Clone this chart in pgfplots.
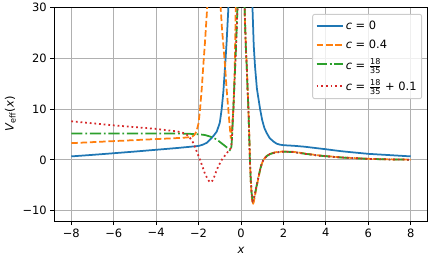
\documentclass[border=0pt]{standalone}
\usepackage{fontspec}
\setmainfont{DejaVu Sans}
\usepackage{amsmath}
\usepackage{pgfplots}
\pgfplotsset{compat=1.18}
\definecolor{tabblue}{HTML}{1F77B4}
\definecolor{taborange}{HTML}{FF7F0E}
\definecolor{tabgreen}{HTML}{2CA02C}
\definecolor{tabred}{HTML}{D62728}
\newcommand{\fr}[2]{$\frac{\text{#1}}{\text{#2}}$}
\newcommand{\fs}{\fontsize{11.5}{13.5}\selectfont}
\begin{document}
\begin{tikzpicture}
\begin{axis}[name=ax, scale only axis, width=373.4bp, height=213.7bp,
  xmin=-8.8, xmax=8.8, ymin=-12, ymax=30,
  xtick={-8,-6,...,8}, xticklabels={−8,−6,−4,−2,0,2,4,6,8},
  ytick={-10,0,10,20,30}, yticklabels={−10,0,10,20,30},
  tick align=outside, tick pos=left, major tick length=4bp,
  tick style={black, line width=0.9bp},
  grid=major, major grid style={color=black!31, line width=0.9bp},
  axis line style={line width=0.9bp},
  every tick label/.append style={font=\fs},
  label style={font=\fs},
  xlabel={\textit{x}}, ylabel={\textit{V}\textsubscript{eff}(\textit{x})},
  xlabel style={yshift=-3bp},
  legend cell align=left,
  legend style={at={(0.985,0.969)}, anchor=north east, font=\fs,
    fill=white, fill opacity=0.8, draw opacity=1, text opacity=1,
    draw=black!20, rounded corners=2bp, line width=0.9bp, row sep=5bp,
    inner ysep=4.5bp, inner xsep=3bp},
  legend image code/.code={\draw[#1, line width=1.75bp] (0bp,0bp) -- (26bp,0bp);},
]
\addplot[tabblue, line width=1.75bp] table {
x y
-8 0.70
-7 1.00
-6 1.32
-5 1.65
-4 2.00
-3 2.35
-2.5 2.55
-2 2.75
-1.8 3.0
-1.6 3.4
-1.46 4.0
-1.3 4.7
-1.14 5.6
-1.0 7.3
-0.91 10
-0.83 13.5
-0.75 18.4
-0.68 23
-0.6 29.5
-0.55 34
-0.5 40
0.5 38
0.54 30
0.6 22.5
0.66 18.4
0.75 14
0.9 10
1.0 7.8
1.1 6.3
1.21 5.3
1.35 4.3
1.52 3.65
1.68 3.2
1.84 3.0
2.0 2.9
2.5 2.78
3.0 2.6
3.5 2.35
4.0 2.1
4.66 1.75
5.0 1.6
6.0 1.2
7.0 0.95
8.0 0.70
};
\addlegendentry{\textit{c} = 0}
\addplot[taborange, line width=1.75bp, dash pattern=on 6.5bp off 2.8bp] table {
x y
-8 3.3
-7 3.5
-6 3.7
-5 3.9
-4 4.1
-3 4.3
-2.6 4.4
-2.4 4.5
-2.3 4.6
-2.2 4.9
-2.1 5.6
-2.0 7.2
-1.93 10
-1.85 14
-1.77 19
-1.7 23
-1.6 29.5
-1.55 35
-1.5 42
-1.1 42
-1.0 33
-0.96 30
-0.9 26
-0.82 22
-0.75 18.4
-0.68 14
-0.6 10
-0.54 7
-0.48 4.2
-0.42 6.5
-0.36 10
-0.3 17
-0.25 29.5
-0.22 38
0.12 40
0.15 33
0.19 27
0.23 22
0.27 18.5
0.31 14
0.35 10
0.39 4.5
0.42 0
0.46 -4
0.5 -7.0
0.55 -8.8
0.6 -8.3
0.65 -7.2
0.74 -5.2
0.82 -3.5
0.9 -2.0
0.97 -0.9
1.05 0.0
1.2 0.75
1.36 1.2
1.6 1.5
1.84 1.62
2.1 1.68
2.5 1.58
3.09 1.22
3.7 0.88
4.65 0.52
5.3 0.37
6.07 0.22
7.0 0.12
8.0 0.06
};
\addlegendentry{\textit{c} = 0.4}
\addplot[tabgreen, line width=1.75bp, dash pattern=on 11.2bp off 2.8bp on 1.75bp off 2.8bp,
  legend image code/.code={\draw[tabgreen, line width=2.1bp, dash pattern=on 10bp off 2.8bp on 2bp off 2.8bp] (0bp,1bp) -- (26bp,1bp);}] table {
x y
-8 5.2
-6 5.2
-4 5.2
-3 5.18
-2.5 5.15
-2 5.05
-1.7 4.9
-1.46 4.6
-1.3 4.35
-1.14 4.0
-1.0 3.55
-0.83 3.0
-0.65 2.4
-0.49 1.8
-0.46 2.3
-0.43 4
-0.4 6.5
-0.36 10
-0.3 16
-0.24 21.6
-0.17 29.5
-0.14 36
0.12 40
0.15 33
0.19 27
0.23 22
0.27 18.5
0.31 14
0.35 10
0.39 4.5
0.42 0
0.46 -4
0.5 -6.5
0.55 -8.0
0.6 -7.7
0.65 -6.8
0.74 -5.0
0.82 -3.4
0.9 -1.9
0.97 -0.85
1.05 0.0
1.2 0.72
1.36 1.15
1.6 1.45
1.84 1.57
2.1 1.62
2.5 1.53
3.09 1.17
3.7 0.84
4.65 0.5
5.3 0.35
6.07 0.2
7.0 0.1
8.0 0.05
};
\addlegendentry{\textit{c} = \fr{18}{35}}
\addplot[tabred, line width=1.75bp, dash pattern=on 1.75bp off 2.9bp] table {
x y
-8 7.6
-7 7.2
-6 6.8
-5 6.45
-4 6.1
-3.5 5.85
-3 5.6
-2.75 5.35
-2.56 5.0
-2.4 4.3
-2.24 3.3
-2.1 1.8
-1.93 0
-1.8 -1.5
-1.69 -2.8
-1.55 -3.9
-1.46 -4.4
-1.35 -4.1
-1.25 -3.2
-1.14 -1.9
-1.0 -0.7
-0.91 0.0
-0.75 0.9
-0.6 1.7
-0.5 2.2
-0.46 2.5
-0.43 4
-0.4 6.5
-0.36 10
-0.3 16
-0.24 21.6
-0.17 29.5
-0.14 36
0.12 40
0.15 33
0.19 27
0.23 22
0.27 18.5
0.31 14
0.35 10
0.39 4.5
0.42 0
0.46 -4
0.5 -6.5
0.55 -8.0
0.6 -7.7
0.65 -6.8
0.74 -5.0
0.82 -3.4
0.9 -1.9
0.97 -0.85
1.05 0.0
1.2 0.72
1.36 1.15
1.6 1.45
1.84 1.57
2.1 1.62
2.5 1.53
3.09 1.17
3.7 0.84
4.65 0.5
5.3 0.35
6.07 0.2
7.0 0.1
8.0 0.05
};
\addlegendentry{\textit{c} = \fr{18}{35} + 0.1}
\end{axis}
\pgfresetboundingbox
\path ([shift={(-54.3bp,-41bp)}]ax.south west) rectangle ([shift={(8.3bp,7.3bp)}]ax.north east);
\end{tikzpicture}
\end{document}
